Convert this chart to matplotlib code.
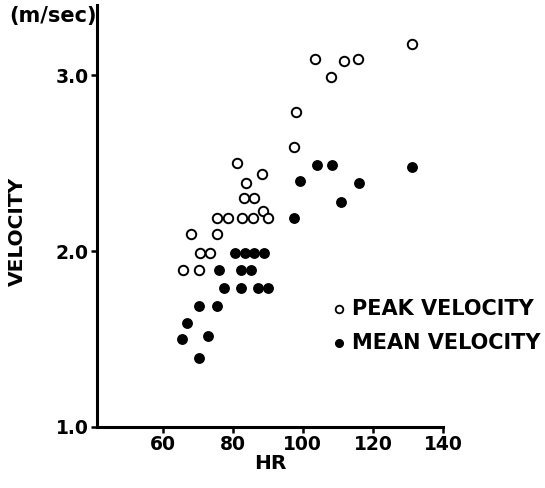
import matplotlib.pyplot as plt

plt.rcParams['font.family'] = ['DejaVu Sans']
plt.rcParams['font.weight'] = 'bold'

# heart rate (beats/min) vs peak velocity
peak_hr = [131.2, 103.5, 111.7, 115.6, 107.9, 98.1, 97.5, 81.1, 88.4, 83.7,
           83.2, 86.1, 88.7, 75.6, 78.6, 82.7, 85.8, 90.1, 68.0, 75.4,
           70.6, 73.5, 65.7, 70.4]
peak_vel = [3.18, 3.09, 3.08, 3.09, 2.99, 2.79, 2.59, 2.50, 2.44, 2.39,
            2.30, 2.30, 2.23, 2.19, 2.19, 2.19, 2.19, 2.19, 2.10, 2.10,
            1.99, 1.99, 1.89, 1.89]

# heart rate vs mean velocity
mean_hr = [97.4, 99.2, 103.9, 108.2, 115.9, 111.0, 131.1, 80.7, 83.4, 86.1,
           89.0, 76.1, 82.5, 85.2, 77.6, 82.3, 87.3, 90.0, 70.4, 75.5,
           67.1, 65.6, 72.9, 70.4]
mean_vel = [2.19, 2.40, 2.49, 2.49, 2.39, 2.28, 2.48, 1.99, 1.99, 1.99,
            1.99, 1.89, 1.89, 1.89, 1.79, 1.79, 1.79, 1.79, 1.69, 1.69,
            1.59, 1.50, 1.52, 1.39]

x_ticks = [60, 80, 100, 120, 140]
y_ticks = [1.0, 2.0, 3.0]

fig = plt.figure(figsize=(5.45, 4.88), dpi=100)
ax = fig.add_axes([0.178, 0.125, 0.635, 0.865])

ax.plot(peak_hr, peak_vel, 'o', ms=6.8, mfc='white', mec='black', mew=1.4,
        ls='none')
ax.plot(mean_hr, mean_vel, 'o', ms=6.8, mfc='black', mec='black', ls='none')

ax.set_xlim(41.3, 140)
ax.set_ylim(1.0, 3.4)
ax.set_xticks(x_ticks)
ax.set_xticklabels([str(v) for v in x_ticks])
ax.set_yticks(y_ticks)
ax.set_yticklabels(['%.1f' % v for v in y_ticks])

for s in ['top', 'right']:
    ax.spines[s].set_visible(False)
for s in ['left', 'bottom']:
    ax.spines[s].set_linewidth(2.2)
ax.spines['bottom'].set_capstyle('projecting')
ax.tick_params(axis='both', direction='out', width=1.8, length=4,
               labelsize=13.5)
ax.tick_params(axis='x', pad=1.5)
ax.tick_params(axis='y', pad=2)

ax.set_xlabel('HR', fontsize=14.5, fontweight='bold', labelpad=0)
fig.text(0.032, 0.525, 'VELOCITY', rotation=90, ha='center', va='center',
         fontsize=14.5, fontweight='bold')
fig.text(0.178, 0.968, '(m/sec)', ha='right', va='center', fontsize=15,
         fontweight='bold')

# legend drawn by hand as markers with labels
lx = 41.3 + (339 - 97) / 3.51
ly_peak = 1.0 + (427 - 309) / 175.5
ly_mean = 1.0 + (427 - 343) / 175.5
ax.plot([lx], [ly_peak], 'o', ms=5.5, mfc='white', mec='black', mew=1.3,
        clip_on=False)
ax.plot([lx], [ly_mean], 'o', ms=5.5, mfc='black', mec='black',
        clip_on=False)
ax.text(lx + 3.8, ly_peak, 'PEAK VELOCITY', va='center', ha='left',
        fontsize=15, fontweight='bold', clip_on=False)
ax.text(lx + 3.8, ly_mean, 'MEAN VELOCITY', va='center', ha='left',
        fontsize=15, fontweight='bold', clip_on=False)

fig.savefig('out.png', dpi=100)
